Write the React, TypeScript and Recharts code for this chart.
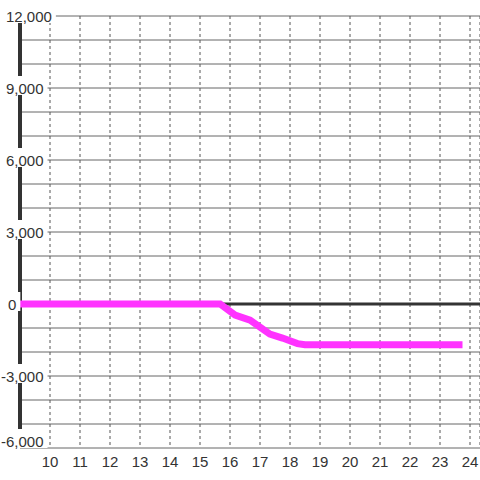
import { LineChart, Line, XAxis, YAxis, CartesianGrid, ReferenceLine } from 'recharts';

// ore del giorno e saldo cumulato
const hours = [9, 15.67, 16.17, 16.67, 17.33, 17.75, 18.25, 18.5, 23.75];
const balance = [0, 0, -460, -670, -1250, -1420, -1650, -1700, -1700];

const xTicks = [10, 11, 12, 13, 14, 15, 16, 17, 18, 19, 20, 21, 22, 23, 24];
const yTicks = [-6000, -5000, -4000, -3000, -2000, -1000, 0, 1000, 2000, 3000, 4000, 5000, 6000, 7000, 8000, 9000, 10000, 11000, 12000];
const yLabelled = [-6000, -3000, 0, 3000, 6000, 9000, 12000];

const data = hours.map((h, i) => ({ h, v: balance[i] }));

const FONT = '"Liberation Sans", Arial, sans-serif';

function textWidth(s: string) {
    let w = 0;
    for (const c of s) w += c === ',' ? 4.17 : c === '-' ? 5 : 8.34;
    return w;
}

function YTick(props: any) {
    const { payload } = props;
    const v = payload.value as number;
    if (!yLabelled.includes(v)) return <g />;
    // l'ultima etichetta in basso sta dentro il grafico
    const y = v === -6000 ? props.y - 7 : props.y;
    const label = v.toLocaleString('en-US');
    const x0 = v < 0 ? 1 : v === 0 ? 8 : 6;
    const w = textWidth(label);
    return (
        <g>
            <rect x={x0 - 1} y={y - 12} width={w + 5} height={19} fill="#fff" />
            <text x={x0} y={y + 5.5} fontSize={15} fontFamily={FONT} fill="#333" textAnchor="start">
                {label}
            </text>
        </g>
    );
}

function XTick(props: any) {
    const { x, payload } = props;
    return (
        <text x={x} y={467} fontSize={15} fontFamily={FONT} fill="#333" textAnchor="middle">
            {payload.value}
        </text>
    );
}

export default function App() {
    return (
        <div style={{ position: 'absolute', left: 0, top: 0, width: 480, height: 480, background: '#fff' }}>
            <LineChart width={480} height={480} data={data} margin={{ top: 16, right: 0, bottom: 0, left: 0 }}>
                <CartesianGrid vertical={false} stroke="#666" strokeWidth={1} />
                <CartesianGrid horizontal={false} stroke="#555" strokeDasharray="3 3" />
                <XAxis
                    dataKey="h"
                    type="number"
                    domain={[9, 24.3333]}
                    ticks={xTicks}
                    allowDataOverflow
                    axisLine={false}
                    tickLine={false}
                    height={32}
                    interval={0}
                    tick={<XTick />}
                />
                <ReferenceLine y={0} stroke="#333" strokeWidth={3} />
                <ReferenceLine x={9} stroke="#333" strokeWidth={4} />
                <Line
                    dataKey="v"
                    type="linear"
                    stroke="#ff33ff"
                    strokeWidth={7}
                    dot={false}
                    activeDot={false}
                    isAnimationActive={false}
                />
                <YAxis
                    type="number"
                    domain={[-6000, 12000]}
                    ticks={yTicks}
                    width={20}
                    axisLine={false}
                    tickLine={false}
                    interval={0}
                    tick={<YTick />}
                />
            </LineChart>
        </div>
    );
}
